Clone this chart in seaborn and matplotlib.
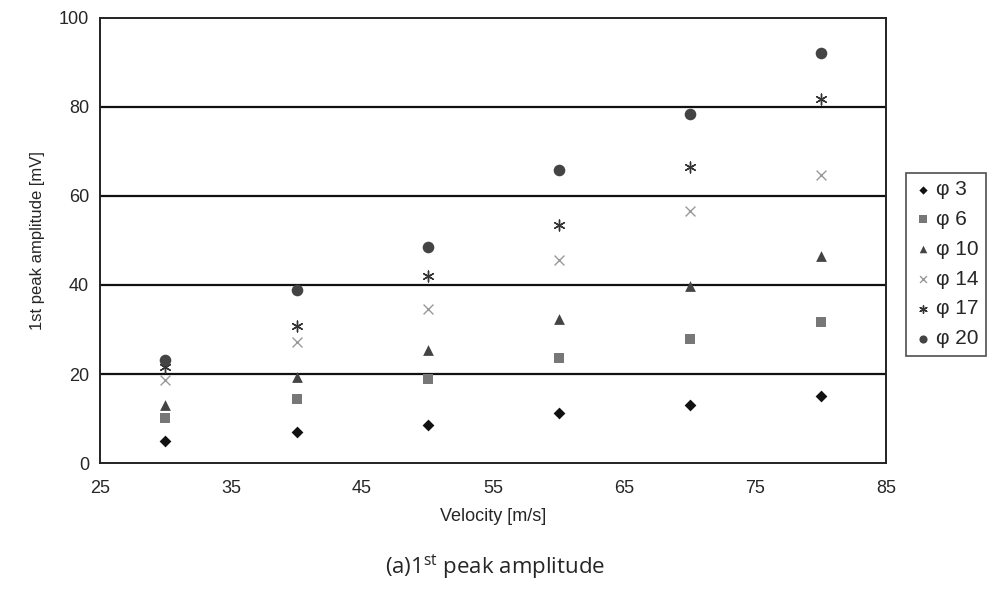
import matplotlib
matplotlib.use("Agg")
import matplotlib.pyplot as plt
import seaborn as sns
import pandas as pd

velocity = [30, 40, 50, 60, 70, 80]
phi3 = [4.9, 6.9, 8.5, 11.2, 13.0, 15.1]
phi6 = [10.1, 14.3, 19.0, 23.5, 27.8, 31.8]
phi10 = [13.0, 19.3, 25.3, 32.3, 39.7, 46.6]
phi14 = [18.6, 27.2, 34.7, 45.7, 56.7, 64.6]
phi17 = [21.5, 30.8, 42.0, 53.4, 66.6, 81.8]
phi20 = [23.1, 38.8, 48.5, 65.9, 78.5, 92.0]
series_names = ["φ 3", "φ 6", "φ 10", "φ 14", "φ 17", "φ 20"]
x_ticks = [25, 35, 45, 55, 65, 75, 85]
y_ticks = [0, 20, 40, 60, 80, 100]

sns.set_style("white")
plt.rcParams['font.family'] = ['Liberation Sans', 'DejaVu Sans']
plt.rcParams['mathtext.fontset'] = 'custom'
plt.rcParams['mathtext.rm'] = 'Open Sans'

rows = []
for name, vals in zip(series_names, [phi3, phi6, phi10, phi14, phi17, phi20]):
    for v, a in zip(velocity, vals):
        rows.append({"Velocity": v, "Amplitude": a, "Series": name})
df = pd.DataFrame(rows)

markers = {"φ 3": "D", "φ 6": "s", "φ 10": "^", "φ 14": "x", "φ 17": (6, 2, 0), "φ 20": "o"}
palette = {"φ 3": "#111111", "φ 6": "#777777", "φ 10": "#444444", "φ 14": "#999999",
           "φ 17": "#333333", "φ 20": "#444444"}
sizes = {"φ 3": 36, "φ 6": 60, "φ 10": 60, "φ 14": 50, "φ 17": 60, "φ 20": 70}

fig = plt.figure(figsize=(9.9, 5.93), dpi=100)
ax = fig.add_axes([0.101, 0.219, 0.794, 0.751])

for name in series_names:
    sub = df[df["Series"] == name]
    lw = 1.0 if name in ("φ 14", "φ 17") else 0
    sns.scatterplot(data=sub, x="Velocity", y="Amplitude", ax=ax, marker=markers[name],
                    color=palette[name], s=sizes[name], linewidth=lw,
                    edgecolor=palette[name] if lw == 0 else None, label=name, zorder=3)

ax.set_xlim(25, 85)
ax.set_ylim(0, 100)
ax.set_xticks(x_ticks)
ax.set_yticks(y_ticks)
ax.tick_params(axis='x', direction='in', length=4, width=1, color='#222222', labelsize=13, pad=12)
ax.tick_params(axis='y', length=0, labelsize=13, pad=8)
for y in y_ticks[1:-1]:
    ax.axhline(y, color='#111111', lw=1.6, zorder=1)
for sp in ax.spines.values():
    sp.set_color('#222222')
    sp.set_linewidth(1.4)

ax.set_xlabel("Velocity [m/s]", fontsize=13, labelpad=8)
ax.set_ylabel("1st peak amplitude [mV]", fontsize=12, labelpad=10)

leg = ax.legend(loc='upper left', bbox_to_anchor=(1.026, 0.652), frameon=True, fancybox=False,
                edgecolor='#222222', fontsize=15, handletextpad=0.15, handlelength=0.9,
                borderpad=0.35, labelspacing=0.52, markerscale=0.7, borderaxespad=0)
leg.get_frame().set_linewidth(1.2)

fig.text(0.5, 0.045, r"(a)1$^{\mathrm{st}}$ peak amplitude", ha='center', va='center',
         fontsize=16, family='Open Sans')

fig.savefig("out.png", dpi=100, facecolor='white')
